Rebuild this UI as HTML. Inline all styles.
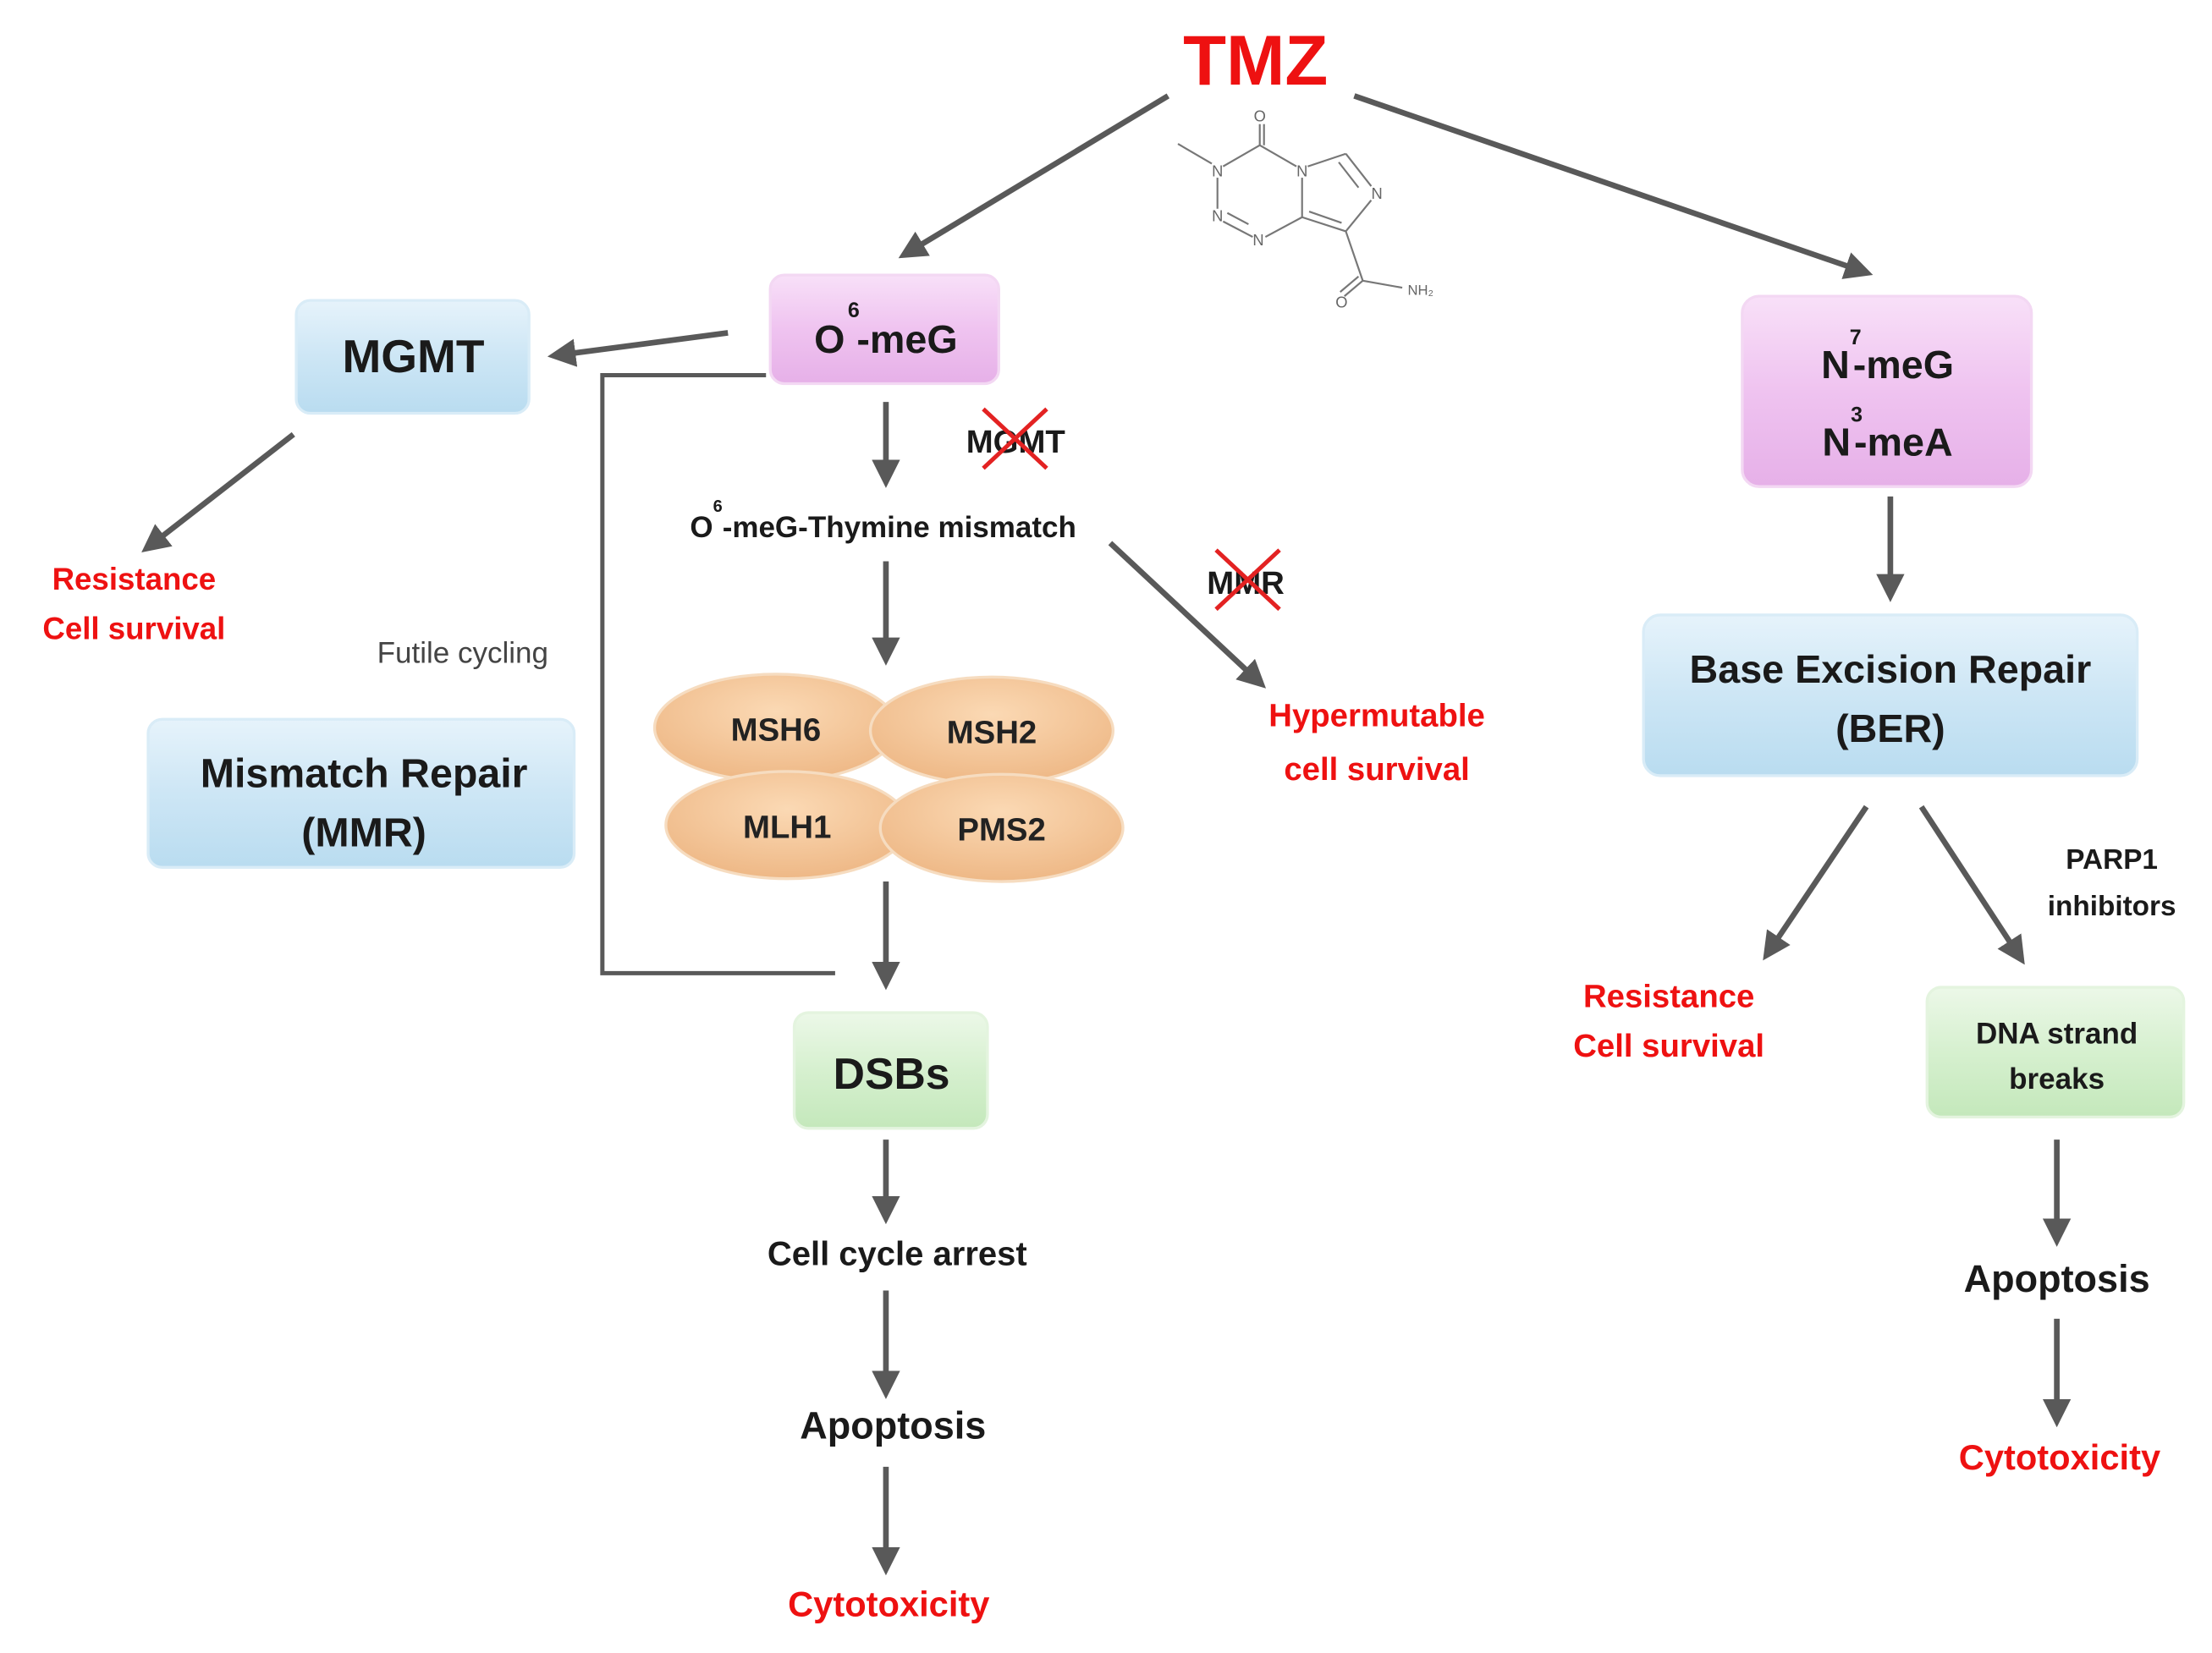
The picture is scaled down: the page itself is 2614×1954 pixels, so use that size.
<!DOCTYPE html>
<html><head><meta charset="utf-8"><style>
html,body{margin:0;padding:0;background:#fff;}
svg{display:block;}
text{font-family:"Liberation Sans",sans-serif;}
</style></head><body>
<svg width="2614" height="1954" viewBox="0 0 1568 1172" preserveAspectRatio="none" xmlns="http://www.w3.org/2000/svg">
<defs>
<marker id="ah" markerWidth="5" markerHeight="5" refX="3.5" refY="2.5" orient="auto" markerUnits="strokeWidth"><path d="M0,0 L5,2.5 L0,5 z" fill="#595959"/></marker>
<linearGradient id="blue" x1="0" y1="0" x2="0" y2="1"><stop offset="0" stop-color="#e6f3fb"/><stop offset="0.5" stop-color="#cde6f5"/><stop offset="1" stop-color="#b9dcf0"/></linearGradient>
<linearGradient id="pink" x1="0" y1="0" x2="0" y2="1"><stop offset="0" stop-color="#f8e0f8"/><stop offset="0.5" stop-color="#efc3f0"/><stop offset="1" stop-color="#e6b0e8"/></linearGradient>
<linearGradient id="green" x1="0" y1="0" x2="0" y2="1"><stop offset="0" stop-color="#ecf8e8"/><stop offset="0.5" stop-color="#d6f0cf"/><stop offset="1" stop-color="#c4e8bb"/></linearGradient>
<radialGradient id="orange" cx="0.5" cy="0.35" r="0.65"><stop offset="0" stop-color="#fbd9b4"/><stop offset="1" stop-color="#eeb886"/></radialGradient>
</defs>
<g stroke="#595959" stroke-width="4" fill="none">
<line x1="828" y1="68" x2="642" y2="180" marker-end="url(#ah)"/>
<line x1="960" y1="68" x2="1322" y2="193" marker-end="url(#ah)"/>
<line x1="516" y1="236" x2="394" y2="252" marker-end="url(#ah)"/>
<line x1="208" y1="308" x2="105" y2="388" marker-end="url(#ah)"/>
<polyline points="543,266 427,266 427,690 592,690" stroke-width="3"/>
<line x1="628" y1="285" x2="628" y2="340" marker-end="url(#ah)"/>
<line x1="628" y1="398" x2="628" y2="466" marker-end="url(#ah)"/>
<line x1="628" y1="625" x2="628" y2="696" marker-end="url(#ah)"/>
<line x1="628" y1="808" x2="628" y2="862" marker-end="url(#ah)"/>
<line x1="628" y1="915" x2="628" y2="986" marker-end="url(#ah)"/>
<line x1="628" y1="1040" x2="628" y2="1111" marker-end="url(#ah)"/>
<line x1="787" y1="385" x2="893" y2="484" marker-end="url(#ah)"/>
<line x1="1340" y1="352" x2="1340" y2="421" marker-end="url(#ah)"/>
<line x1="1323" y1="572" x2="1253" y2="676" marker-end="url(#ah)"/>
<line x1="1362" y1="572" x2="1432" y2="679" marker-end="url(#ah)"/>
<line x1="1458" y1="808" x2="1458" y2="878" marker-end="url(#ah)"/>
<line x1="1458" y1="935" x2="1458" y2="1006" marker-end="url(#ah)"/>
</g>
<g stroke="#d9ecf7" stroke-width="2">
<rect x="210" y="213" width="165" height="80" rx="10" fill="url(#blue)"/>
<rect x="105" y="510" width="302" height="105" rx="10" fill="url(#blue)"/>
<rect x="1165" y="436" width="350" height="114" rx="12" fill="url(#blue)"/>
</g>
<rect x="546" y="195" width="162" height="77" rx="10" fill="url(#pink)" stroke="#f3d8f3" stroke-width="2"/>
<rect x="1235" y="210" width="205" height="135" rx="12" fill="url(#pink)" stroke="#f3d8f3" stroke-width="2"/>
<rect x="563" y="718" width="137" height="82" rx="10" fill="url(#green)" stroke="#e4f4df" stroke-width="2"/>
<rect x="1366" y="700" width="182" height="92" rx="10" fill="url(#green)" stroke="#e4f4df" stroke-width="2"/>
<g fill="url(#orange)" stroke="#f6dcc0" stroke-width="2">
<ellipse cx="550" cy="516" rx="86" ry="38"/>
<ellipse cx="703" cy="518" rx="86" ry="38"/>
<ellipse cx="558" cy="585" rx="86" ry="38"/>
<ellipse cx="710" cy="587" rx="86" ry="38"/>
</g>
<g stroke="#777" stroke-width="1.3" fill="none">
<line x1="893" y1="88" x2="893" y2="103"/><line x1="896" y1="88" x2="896" y2="103"/>
<line x1="893" y1="103" x2="867" y2="118"/><line x1="893" y1="103" x2="919" y2="118"/>
<line x1="835" y1="102" x2="859" y2="116"/>
<line x1="863" y1="126" x2="863" y2="148"/>
<line x1="867" y1="157" x2="888" y2="168"/><line x1="870" y1="151" x2="885" y2="159"/>
<line x1="897" y1="168" x2="923" y2="154"/>
<line x1="923" y1="126" x2="923" y2="154"/>
<line x1="927" y1="118" x2="954" y2="109"/>
<line x1="954" y1="109" x2="972" y2="132"/><line x1="949" y1="115" x2="963" y2="133"/>
<line x1="972" y1="142" x2="954" y2="164"/>
<line x1="923" y1="154" x2="954" y2="164"/><line x1="928" y1="150" x2="951" y2="158"/>
<line x1="954" y1="164" x2="966" y2="199"/>
<line x1="966" y1="199" x2="953" y2="210"/><line x1="963" y1="196" x2="950" y2="207"/>
<line x1="966" y1="199" x2="994" y2="204"/>
</g>
<g font-size="11" fill="#666" text-anchor="middle">
<text x="893" y="86">O</text><text x="863" y="125">N</text><text x="863" y="157">N</text>
<text x="892" y="174">N</text><text x="923" y="125">N</text><text x="976" y="141">N</text>
<text x="951" y="218">O</text><text x="1007" y="209" font-size="10">NH₂</text>
</g>
<g font-weight="bold" text-anchor="middle">
<text x="890" y="60" font-size="50" fill="#ee1111">TMZ</text>
<text x="293" y="264" font-size="33" fill="#1a1a1a">MGMT</text>
<text x="628" y="250" font-size="28" fill="#1a1a1a">O<tspan dx="2" dy="-25" font-size="15">6</tspan><tspan dx="-2" dy="25">-meG</tspan></text>
<text x="1338" y="268" font-size="28" fill="#1a1a1a">N<tspan dy="-24" font-size="15">7</tspan><tspan dx="-6" dy="24">-meG</tspan></text>
<text x="1338" y="323" font-size="28" fill="#1a1a1a">N<tspan dy="-24" font-size="15">3</tspan><tspan dx="-6" dy="24">-meA</tspan></text>
<text x="258" y="558" font-size="29" fill="#1a1a1a">Mismatch Repair</text>
<text x="258" y="600" font-size="29" fill="#1a1a1a">(MMR)</text>
<text x="1340" y="484" font-size="28" fill="#1a1a1a">Base Excision Repair</text>
<text x="1340" y="526" font-size="28" fill="#1a1a1a">(BER)</text>
<text x="632" y="772" font-size="31" fill="#1a1a1a">DSBs</text>
<text x="1458" y="740" font-size="21" fill="#1a1a1a">DNA strand</text>
<text x="1458" y="772" font-size="21" fill="#1a1a1a">breaks</text>
<text x="720" y="321" font-size="23" fill="#1a1a1a">MGMT</text>
<text x="883" y="421" font-size="23" fill="#1a1a1a">MMR</text>
<text x="626" y="381" font-size="21" fill="#1a1a1a">O<tspan dy="-18" font-size="12">6</tspan><tspan dy="18">-meG-Thymine mismatch</tspan></text>
<text x="550" y="525" font-size="23" fill="#222">MSH6</text>
<text x="703" y="527" font-size="23" fill="#222">MSH2</text>
<text x="558" y="594" font-size="23" fill="#222">MLH1</text>
<text x="710" y="596" font-size="23" fill="#222">PMS2</text>
<text x="95" y="418" font-size="22" fill="#ee1111">Resistance</text>
<text x="95" y="453" font-size="22" fill="#ee1111">Cell survival</text>
<text x="976" y="515" font-size="23" fill="#ee1111">Hypermutable</text>
<text x="976" y="553" font-size="23" fill="#ee1111">cell survival</text>
<text x="1183" y="714" font-size="23" fill="#ee1111">Resistance</text>
<text x="1183" y="749" font-size="23" fill="#ee1111">Cell survival</text>
<text x="1497" y="616" font-size="20" fill="#1a1a1a">PARP1</text>
<text x="1497" y="649" font-size="20" fill="#1a1a1a">inhibitors</text>
<text x="636" y="897" font-size="24" fill="#1a1a1a">Cell cycle arrest</text>
<text x="633" y="1020" font-size="27" fill="#1a1a1a">Apoptosis</text>
<text x="630" y="1146" font-size="25" fill="#ee1111">Cytotoxicity</text>
<text x="1458" y="916" font-size="27" fill="#1a1a1a">Apoptosis</text>
<text x="1460" y="1042" font-size="25" fill="#ee1111">Cytotoxicity</text>
</g>
<text x="328" y="470" font-size="21" fill="#444" text-anchor="middle">Futile cycling</text>
<g stroke="#e32222" stroke-width="3">
<line x1="697" y1="290" x2="742" y2="332"/><line x1="742" y1="290" x2="697" y2="332"/>
<line x1="862" y1="390" x2="907" y2="432"/><line x1="907" y1="390" x2="862" y2="432"/>
</g>
</svg>
</body></html>
